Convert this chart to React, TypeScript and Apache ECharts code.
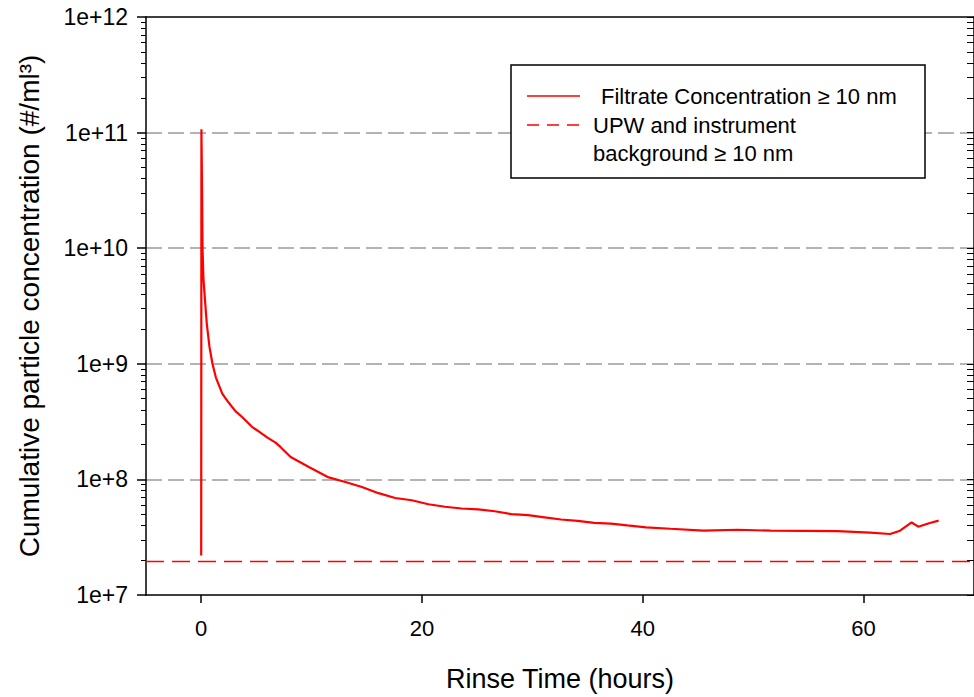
import React, { useEffect, useRef } from "react";
import * as echarts from "echarts";

// Rinse time (hours) and filtrate concentration (#/ml^3)
const rinseHours = [
  0, 0.02, 0.08, 0.12, 0.2, 0.33, 0.51, 0.75, 1.02, 1.33, 1.92, 2.5, 3.1, 3.73, 4.6, 5.08, 6.0,
  6.74, 7.2, 8.1, 9.75, 11.55, 13.06, 14.56, 16.06, 17.57, 19.07, 20.58, 22.08, 23.58, 25.09,
  26.6, 28.1, 29.6, 31.1, 32.6, 34.1, 35.6, 37.1, 38.6, 40.3, 42.5, 45.5, 48.6, 51.6, 54.6,
  57.6, 60.6, 62.4, 63.3, 64.35, 64.95, 66.0, 66.8,
];
const filtrateConc = [
  2.2e7, 1.07e11, 3.0e10, 1.0e10, 5.5e9, 3.7e9, 2.2e9, 1.4e9, 1.0e9, 7.6e8, 5.5e8, 4.6e8, 3.9e8,
  3.45e8, 2.85e8, 2.65e8, 2.3e8, 2.08e8, 1.9e8, 1.56e8, 1.28e8, 1.04e8, 9.5e7, 8.6e7, 7.6e7,
  6.9e7, 6.6e7, 6.1e7, 5.8e7, 5.6e7, 5.5e7, 5.3e7, 5.0e7, 4.9e7, 4.7e7, 4.5e7, 4.37e7, 4.2e7,
  4.14e7, 4.0e7, 3.85e7, 3.74e7, 3.6e7, 3.67e7, 3.6e7, 3.59e7, 3.57e7, 3.47e7, 3.37e7, 3.6e7,
  4.24e7, 3.9e7, 4.2e7, 4.4e7,
];
// UPW + instrument background line
const backgroundHours = [-5, 70];
const backgroundConc = [1.95e7, 1.95e7];

const xTickValues = [0, 20, 40, 60];
const yMajorValues = [1e7, 1e8, 1e9, 1e10, 1e11, 1e12];
const yMinorValues: number[] = [];
for (let d = 7; d < 12; d++) {
  for (let m = 2; m <= 9; m++) yMinorValues.push(m * Math.pow(10, d));
}

const seriesName1 = "Filtrate Concentration ≥ 10 nm";
const seriesName2 = "UPW and instrument background ≥ 10 nm";

export default function App() {
  const ref = useRef<HTMLDivElement>(null);
  useEffect(() => {
    if (!ref.current) return;
    const chart = echarts.init(ref.current, null, { renderer: "svg" });
    const font = "Liberation Sans, Arial, sans-serif";
    const grid = { left: 146, top: 17, width: 832, height: 582 };
    const logBase = {
      type: "log" as const,
      logBase: 10,
      min: 1e7,
      max: 1e12,
    };
    chart.setOption({
      animation: false,
      backgroundColor: "#fff",
      grid: { ...grid, show: false },
      xAxis: [
        {
          type: "value",
          min: -5,
          max: 70,
          name: "Rinse Time (hours)",
          nameLocation: "middle",
          nameGap: 70,
          nameTextStyle: { fontFamily: font, fontSize: 27, color: "#000" },
          axisLine: { show: true, onZero: false, lineStyle: { color: "#000", width: 1.5 } },
          axisTick: { show: true, customValues: xTickValues, length: 8, lineStyle: { color: "#000", width: 1.5 } },
          axisLabel: { customValues: xTickValues, fontFamily: font, fontSize: 22, color: "#000", margin: 22 },
          splitLine: { show: false },
        },
        {
          type: "value",
          position: "top",
          min: -5,
          max: 70,
          axisLine: { show: true, onZero: false, lineStyle: { color: "#000", width: 1.5 } },
          axisTick: { show: false },
          axisLabel: { show: false },
          splitLine: { show: false },
        },
      ],
      yAxis: [
        {
          ...logBase,
          position: "left",
          name: "Cumulative particle concentration (#/ml³)",
          nameLocation: "middle",
          nameGap: 103,
          nameTextStyle: { fontFamily: font, fontSize: 28, color: "#000" },
          axisLine: { show: true, onZero: false, lineStyle: { color: "#000", width: 1.5 } },
          axisTick: { show: true, length: 9, lineStyle: { color: "#000", width: 1.5 } },
          axisLabel: {
            fontFamily: font,
            fontSize: 23,
            color: "#000",
            margin: 18,
            formatter: (v: number) => "1e+" + Math.round(Math.log10(v)),
          },
          splitLine: {
            show: true,
            showMinLine: false,
            showMaxLine: false,
            lineStyle: { color: "#9a9a9a", width: 1.5, type: [16, 6] },
          },
        },
        {
          ...logBase,
          position: "left",
          axisLine: { show: false, onZero: false },
          axisTick: { show: true, customValues: yMinorValues, length: 5, lineStyle: { color: "#000", width: 1 } },
          axisLabel: { show: false },
          splitLine: { show: false },
        },
        {
          ...logBase,
          position: "right",
          axisLine: { show: true, onZero: false, lineStyle: { color: "#000", width: 1.5 } },
          axisTick: {
            show: true,
            inside: true,
            customValues: yMinorValues.concat(yMajorValues),
            length: 7,
            lineStyle: { color: "#000", width: 1 },
          },
          axisLabel: { show: false },
          splitLine: { show: false },
        },
      ],
      series: [
        {
          name: seriesName1,
          type: "line",
          yAxisIndex: 0,
          showSymbol: false,
          symbol: "none",
          lineStyle: { color: "#ff0000", width: 2.2 },
          data: rinseHours.map((t, i) => [t, filtrateConc[i]]),
        },
        {
          name: seriesName2,
          type: "line",
          yAxisIndex: 0,
          showSymbol: false,
          symbol: "none",
          lineStyle: { color: "#ff0000", width: 1.5, type: [18, 8] },
          data: backgroundHours.map((t, i) => [t, backgroundConc[i]]),
        },
      ],
      graphic: [
        {
          type: "rect",
          shape: { x: 511, y: 65, width: 414, height: 113 },
          style: { fill: "#fff", stroke: "#000", lineWidth: 1.5 },
          z: 100,
        },
        {
          type: "line",
          shape: { x1: 527, y1: 96, x2: 580, y2: 96 },
          style: { stroke: "#ff0000", lineWidth: 1.5 },
          z: 101,
        },
        {
          type: "line",
          shape: { x1: 527, y1: 125, x2: 580, y2: 125 },
          style: { stroke: "#ff0000", lineWidth: 1.5, lineDash: [12, 8] },
          z: 101,
        },
        {
          type: "text",
          x: 601,
          y: 96,
          style: { text: seriesName1, fontFamily: font, fontSize: 22, fill: "#000", verticalAlign: "middle" },
          z: 101,
        },
        {
          type: "text",
          x: 593,
          y: 125,
          style: { text: "UPW and instrument", fontFamily: font, fontSize: 22, fill: "#000", verticalAlign: "middle" },
          z: 101,
        },
        {
          type: "text",
          x: 593,
          y: 153,
          style: { text: "background ≥ 10 nm", fontFamily: font, fontSize: 22, fill: "#000", verticalAlign: "middle" },
          z: 101,
        },
      ],
    });
    return () => chart.dispose();
  }, []);
  return (
    <div
      ref={ref}
      style={{ position: "absolute", left: 0, top: 0, width: 974, height: 697, background: "#fff" }}
    />
  );
}
